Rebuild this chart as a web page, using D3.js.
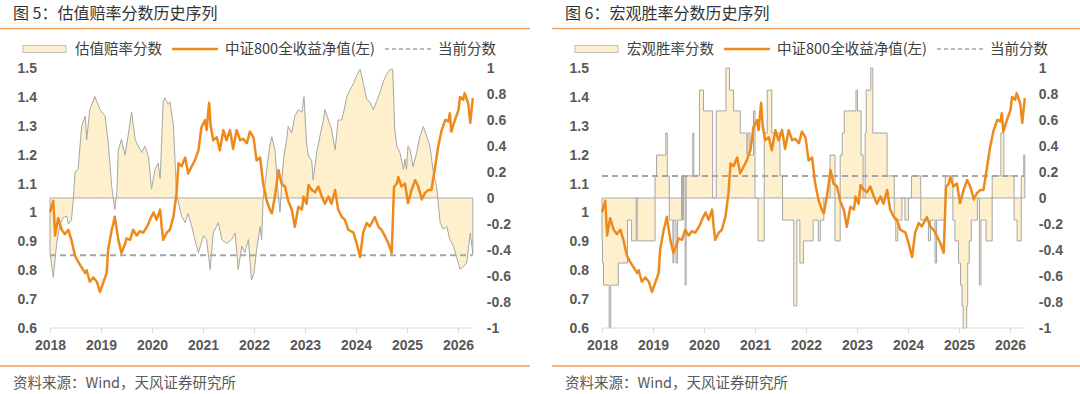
<!DOCTYPE html>
<html>
<head>
<meta charset="utf-8">
<script src="https://cdn.jsdelivr.net/npm/d3@7"></script>
<style>
  body { margin: 0; background: #fff; }
  svg text { font-family: "Noto Sans CJK SC", "Noto Sans", sans-serif; }
  .num text, text.num { font-family: "Liberation Sans", Arial, sans-serif; font-weight: bold; font-size: 14px; fill: #595959; }
</style>
</head>
<body>
<div id="chart-area"></div>
<script>
// ---- data ----
const yearTicks = [2018, 2019, 2020, 2021, 2022, 2023, 2024, 2025, 2026];
const leftTicks = [0.6, 0.7, 0.8, 0.9, 1.0, 1.1, 1.2, 1.3, 1.4, 1.5];
const rightTicks = [-1, -0.8, -0.6, -0.4, -0.2, 0, 0.2, 0.4, 0.6, 0.8, 1];

// CSI 800 total return NAV (left axis), decimal years
const navYears = [
  2018.00, 2018.065, 2018.10, 2018.16, 2018.23, 2018.29, 2018.36, 2018.42, 2018.49, 2018.55, 2018.62, 2018.69, 2018.72, 2018.78, 2018.85, 2018.92, 2018.98,
  2019.04, 2019.11, 2019.14, 2019.21, 2019.24, 2019.27, 2019.34, 2019.40, 2019.47, 2019.50, 2019.57, 2019.63, 2019.70, 2019.76, 2019.83, 2019.90, 2019.96,
  2020.03, 2020.09, 2020.16, 2020.19, 2020.22, 2020.29, 2020.35, 2020.42, 2020.48, 2020.52, 2020.58, 2020.65, 2020.71, 2020.78, 2020.84, 2020.91, 2020.97,
  2021.04, 2021.07, 2021.12, 2021.15, 2021.20, 2021.27, 2021.33, 2021.40, 2021.46, 2021.53, 2021.59, 2021.66, 2021.73, 2021.79, 2021.86, 2021.92, 2021.99,
  2022.05, 2022.12, 2022.18, 2022.25, 2022.31, 2022.35, 2022.41, 2022.48, 2022.54, 2022.61, 2022.67, 2022.74, 2022.80, 2022.87, 2022.94, 2022.97,
  2023.03, 2023.07, 2023.13, 2023.20, 2023.26, 2023.33, 2023.39, 2023.46, 2023.52, 2023.59, 2023.65, 2023.72, 2023.78, 2023.85, 2023.95,
  2024.01, 2024.08, 2024.14, 2024.21, 2024.27, 2024.37, 2024.44, 2024.50, 2024.57, 2024.63, 2024.70, 2024.745, 2024.80, 2024.83, 2024.89, 2024.96,
  2025.02, 2025.09, 2025.16, 2025.22, 2025.29, 2025.35, 2025.42, 2025.48, 2025.55, 2025.61, 2025.68, 2025.75, 2025.81, 2025.84, 2025.87, 2025.94,
  2026.01, 2026.04, 2026.10, 2026.13, 2026.20, 2026.24, 2026.29
];
const navValues = [
  1.00, 1.04, 0.92, 0.98, 0.94, 0.925, 0.94, 0.905, 0.85, 0.83, 0.81, 0.79, 0.80, 0.76, 0.775, 0.76, 0.725,
  0.755, 0.79, 0.87, 0.94, 0.96, 0.985, 0.905, 0.86, 0.89, 0.91, 0.905, 0.94, 0.92, 0.935, 0.93, 0.95, 0.975,
  1.00, 0.975, 1.01, 0.95, 0.905, 0.93, 0.94, 0.985, 1.065, 1.17, 1.16, 1.19, 1.135, 1.16, 1.18, 1.215, 1.295,
  1.32, 1.285, 1.38, 1.30, 1.25, 1.26, 1.215, 1.285, 1.25, 1.285, 1.22, 1.285, 1.25, 1.255, 1.24, 1.28, 1.26,
  1.18, 1.19, 1.10, 1.04, 1.01, 0.997, 1.055, 1.147, 1.10, 1.089, 1.04, 1.01, 0.95, 1.02, 1.01, 1.055,
  1.03, 1.095, 1.078, 1.07, 1.09, 1.055, 1.03, 1.055, 1.03, 1.078, 1.01, 0.985, 0.975, 0.94, 0.93,
  0.895, 0.846, 0.93, 0.963, 0.952, 0.984, 0.95, 0.94, 0.917, 0.895, 0.86, 1.088, 1.10, 1.123, 1.09, 1.10,
  1.032, 1.078, 1.112, 1.09, 1.045, 1.067, 1.078, 1.078, 1.157, 1.227, 1.285, 1.32, 1.315, 1.343, 1.28, 1.32,
  1.355, 1.40, 1.39, 1.413, 1.378, 1.31, 1.396
];

// valuation odds score (right axis)
const valYears = [
  2018.00, 2018.065, 2018.13, 2018.20, 2018.26, 2018.33, 2018.36, 2018.42, 2018.46, 2018.49, 2018.55, 2018.62, 2018.69, 2018.72, 2018.78, 2018.88, 2018.98,
  2019.08, 2019.14, 2019.21, 2019.27, 2019.31, 2019.34, 2019.40, 2019.47, 2019.54, 2019.60, 2019.67, 2019.73, 2019.80, 2019.86, 2019.93, 2019.99,
  2020.06, 2020.12, 2020.16, 2020.22, 2020.25, 2020.32, 2020.35, 2020.42, 2020.48, 2020.52, 2020.58, 2020.65, 2020.71, 2020.78, 2020.84, 2020.91,
  2021.01, 2021.07, 2021.14, 2021.20, 2021.30, 2021.37, 2021.46, 2021.56, 2021.63, 2021.69, 2021.76, 2021.82, 2021.89, 2021.95,
  2022.00, 2022.05, 2022.12, 2022.15, 2022.18, 2022.25, 2022.31, 2022.35, 2022.41, 2022.48, 2022.51, 2022.54, 2022.58, 2022.64, 2022.67, 2022.74, 2022.80, 2022.87, 2022.94, 2022.98,
  2023.03, 2023.07, 2023.13, 2023.16, 2023.23, 2023.29, 2023.36, 2023.39, 2023.46, 2023.52, 2023.59, 2023.65, 2023.72, 2023.78, 2023.82, 2023.88, 2023.95,
  2024.01, 2024.08, 2024.14, 2024.21, 2024.27, 2024.34, 2024.40, 2024.47, 2024.53, 2024.60, 2024.67, 2024.72, 2024.76, 2024.80, 2024.86, 2024.93, 2024.96, 2024.99,
  2025.02, 2025.06, 2025.12, 2025.19, 2025.25, 2025.32, 2025.39, 2025.45, 2025.52, 2025.58, 2025.65, 2025.71, 2025.78, 2025.84, 2025.91, 2025.97,
  2026.04, 2026.10, 2026.17, 2026.24, 2026.29
];
const valScores = [
  -0.42, -0.61, -0.35, -0.2, -0.15, -0.14, -0.2, -0.17, 0.0, 0.2, 0.22, 0.55, 0.63, 0.45, 0.68, 0.78, 0.68,
  0.63, 0.43, 0.09, -0.09, 0.04, 0.37, 0.45, 0.33, 0.5, 0.66, 0.45, 0.40, 0.35, 0.40, 0.32, 0.07,
  0.22, 0.27, 0.15, 0.74, 0.77, 0.72, 0.74, 0.56, 0.04, -0.04, -0.14, -0.19, -0.12, -0.22, -0.32, -0.42,
  -0.29, -0.32, -0.55, -0.27, -0.19, -0.32, -0.35, -0.32, -0.27, -0.55, -0.37, -0.42, -0.32, -0.63,
  -0.58, -0.4, -0.22, -0.32, 0.0, 0.22, 0.40, 0.47, 0.37, 0.0, -0.11, 0.09, 0.3, 0.45, 0.55, 0.5, 0.63, 0.68, 0.66, 0.78,
  0.42, 0.32, 0.29, 0.14, 0.35, 0.47, 0.6, 0.68, 0.6, 0.53, 0.37, 0.6, 0.6, 0.7, 0.78, 0.83, 0.88,
  0.94, 0.99, 0.89, 0.76, 0.74, 0.68, 0.74, 0.81, 0.89, 0.95, 0.99, 0.99, 0.53, 0.4, 0.35, 0.22, 0.3, 0.22,
  0.4, 0.37, 0.24, 0.35, 0.47, 0.55, 0.47, 0.4, 0.19, 0.09, -0.19, -0.24, -0.22, -0.32, -0.37, -0.45,
  -0.55, -0.53, -0.50, -0.27, -0.43
];
const valCurrent = -0.44;

// macro win-rate score (right axis), step changes
const macroYears = [
  2018.00, 2018.01, 2018.03, 2018.14, 2018.17, 2018.32, 2018.50, 2018.58, 2018.67, 2018.69,
  2019.04, 2019.07, 2019.25, 2019.28, 2019.32, 2019.39, 2019.41, 2019.45, 2019.48, 2019.56, 2019.58, 2019.60, 2019.63, 2019.65, 2019.78, 2019.80, 2019.91, 2019.99,
  2020.17, 2020.24, 2020.43, 2020.50, 2020.58, 2020.71, 2020.84, 2020.86, 2020.90, 2020.97,
  2021.00, 2021.06, 2021.18, 2021.24, 2021.33, 2021.49, 2021.54, 2021.76, 2021.82, 2021.88, 2021.95,
  2022.14, 2022.24, 2022.28, 2022.35, 2022.47, 2022.57, 2022.67, 2022.71, 2022.75, 2022.98,
  2023.01, 2023.08, 2023.12, 2023.16, 2023.18, 2023.27, 2023.31, 2023.59, 2023.73, 2023.76, 2023.80, 2023.88, 2023.94,
  2024.01, 2024.07, 2024.25, 2024.40, 2024.44, 2024.53, 2024.56, 2024.73, 2024.88, 2024.92, 2024.99,
  2025.03, 2025.06, 2025.08, 2025.15, 2025.17, 2025.20, 2025.24, 2025.36, 2025.40, 2025.43, 2025.53, 2025.65, 2025.82, 2025.88,
  2026.08, 2026.14, 2026.22, 2026.27, 2026.29
];
const macroScores = [
  -0.33, -0.5, -0.67, -1, -0.67, -0.5, -0.17, -0.33, 0, -0.33,
  0.17, 0.33, 0.5, 0.17, -0.17, -0.5, -0.17, -0.5, -0.17, 0.17, -0.17, 0.17, -0.67, 0.17, 0.5, 0.17, 0.83, 0.67,
  0, 0.67, 1, 0.83, 0.67, 0.5, 0.33, 0.5, 0.33, 0.67,
  0, -0.33, 0.5, 0.83, 0.5, 0.17, -0.17, -0.83, -0.17, -0.5, -0.33,
  -0.17, -0.33, -0.17, 0, 0.33, -0.33, 0.33, 0.5, 0.67, 0.83,
  0.67, 0.33, 0, 0.5, 0.83, 1, 0.5, 0.17, -0.17, -0.33, -0.17, 0, -0.17,
  0, 0.17, -0.17, -0.33, -0.17, -0.5, -0.17, 0.17, -0.17, -0.33, -0.5,
  -0.67, -0.83, -1, -0.83, -0.5, -0.33, -0.17, 0, -0.67, -0.17, -0.33, 0.17, 0.5, 0.17,
  -0.17, -0.33, 0.17, 0.33, 0.33
];
const macroCurrent = 0.17;

// ---- drawing ----
const W = 1080, H = 394;
const orange = "#EE8A1C";
const ruleColor = "#F2A25C";

const svg = d3.select("#chart-area")
  .append("svg")
  .attr("width", W)
  .attr("height", H)
  .style("background", "#fff");

const navData = navYears.map((yr, i) => [yr, navValues[i]]);

function drawPanel(ox, ruleStart, ruleEnd, title, scoreName, scoreData, current, step) {
  const g = svg.append("g");

  // scales: right axis 0 lines up with 1.05 on the left
  const x = d3.scaleLinear().domain([2018, 2026.29]).range([ox + 50, ox + 472.8]);
  const yL = d3.scaleLinear().domain([0.6, 1.5]).range([328, 68]);
  const yR = d3.scaleLinear().domain([-1, 1]).range([328, 68]);

  // title + rules
  g.append("text").attr("x", ox + 13).attr("y", 19)
    .attr("font-size", 16).attr("fill", "#333").text(title);
  g.append("line").attr("x1", ruleStart).attr("x2", ruleEnd).attr("y1", 28.5).attr("y2", 28.5)
    .attr("stroke", ruleColor).attr("stroke-width", 1.3);
  g.append("line").attr("x1", ruleStart).attr("x2", ruleEnd).attr("y1", 366).attr("y2", 366)
    .attr("stroke", ruleColor).attr("stroke-width", 1.3);
  g.append("text").attr("x", ox + 13).attr("y", 388)
    .attr("font-size", 14.5).attr("fill", "#595959").text("资料来源：Wind，天风证券研究所");

  // legend
  const ly = 49;
  g.append("rect").attr("x", ox + 23).attr("y", ly - 3.5).attr("width", 43).attr("height", 7)
    .attr("fill", "#FEF0CD").attr("stroke", "#BFBFBF").attr("stroke-width", 1);
  g.append("text").attr("x", ox + 75).attr("y", ly).attr("dy", "0.35em")
    .attr("font-size", 14.5).attr("fill", "#404040").text(scoreName);
  g.append("line").attr("x1", ox + 172).attr("x2", ox + 218).attr("y1", ly).attr("y2", ly)
    .attr("stroke", orange).attr("stroke-width", 2.5);
  g.append("text").attr("x", ox + 225).attr("y", ly).attr("dy", "0.35em")
    .attr("font-size", 14.5).attr("fill", "#404040").text("中证800全收益净值(左)");
  g.append("line").attr("x1", ox + 385).attr("x2", ox + 433).attr("y1", ly).attr("y2", ly)
    .attr("stroke", "#A6A6A6").attr("stroke-width", 1.6).attr("stroke-dasharray", "4,3");
  g.append("text").attr("x", ox + 438).attr("y", ly).attr("dy", "0.35em")
    .attr("font-size", 14.5).attr("fill", "#404040").text("当前分数");

  // score area
  const area = d3.area()
    .x(d => x(d[0]))
    .y0(yR(0))
    .y1(d => yR(d[1]))
    .curve(step ? d3.curveStepAfter : d3.curveLinear);
  g.append("path").datum(scoreData)
    .attr("d", area)
    .attr("fill", "#FEF0CD")
    .attr("stroke", "#A6A6A6")
    .attr("stroke-width", 1);

  // current score
  g.append("line")
    .attr("x1", x(2018)).attr("x2", x(2026.29))
    .attr("y1", yR(current)).attr("y2", yR(current))
    .attr("stroke", "#A6A6A6").attr("stroke-width", 2).attr("stroke-dasharray", "6,4");

  // NAV line
  const line = d3.line().x(d => x(d[0])).y(d => yL(d[1]));
  g.append("path").datum(navData)
    .attr("d", line)
    .attr("fill", "none")
    .attr("stroke", orange)
    .attr("stroke-width", 2.5)
    .attr("stroke-linejoin", "round");

  // axes
  const fmt = d => String(+d.toFixed(1));
  const xAxis = g.append("g").attr("class", "num")
    .attr("transform", `translate(0,328)`)
    .call(d3.axisBottom(x).tickValues(yearTicks).tickFormat(d3.format("d")).tickSize(5).tickPadding(7));
  xAxis.select(".domain").attr("stroke", "#D9D9D9").attr("d", `M${x(2018)},0H${x(2026.29)}`);
  xAxis.selectAll(".tick line").attr("stroke", "#D9D9D9");

  const lAxis = g.append("g").attr("class", "num")
    .attr("transform", `translate(${ox + 50},0)`)
    .call(d3.axisLeft(yL).tickValues(leftTicks).tickFormat(fmt).tickSize(0).tickPadding(13));
  lAxis.select(".domain").remove();

  const rAxis = g.append("g").attr("class", "num")
    .attr("transform", `translate(${ox + 472.8},0)`)
    .call(d3.axisRight(yR).tickValues(rightTicks).tickFormat(fmt).tickSize(0).tickPadding(14));
  rAxis.select(".domain").remove();
  g.selectAll(".num text").attr("fill", "#595959");
}

const valData = valYears.map((yr, i) => [yr, valScores[i]]);
const macroData = macroYears.map((yr, i) => [yr, macroScores[i]]);

drawPanel(0, 0, 530, "图 5：估值赔率分数历史序列", "估值赔率分数", valData, valCurrent, false);
drawPanel(552, 552, 1080, "图 6：宏观胜率分数历史序列", "宏观胜率分数", macroData, macroCurrent, true);
</script>
</body>
</html>
